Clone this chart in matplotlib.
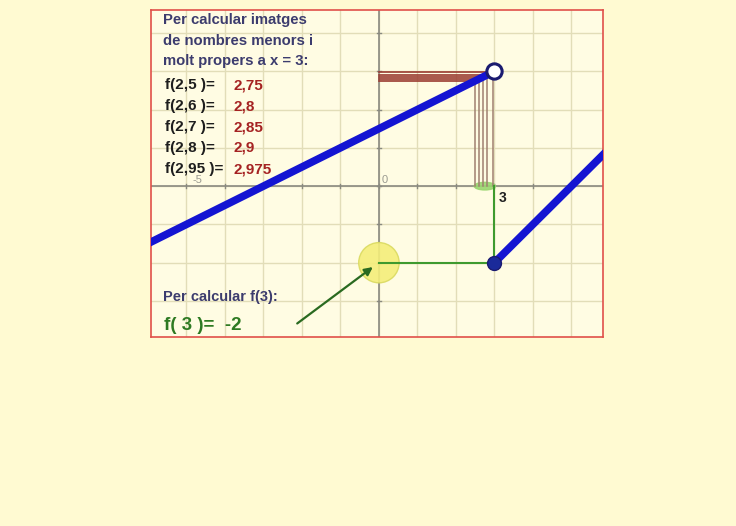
import matplotlib
matplotlib.use("Agg")
import matplotlib.pyplot as plt
from matplotlib.patches import Ellipse, FancyArrowPatch
import numpy as np

# Piecewise function: f(x) = x/2 + 1.5 for x < 3, f(x) = x - 5 for x >= 3
left_x = [-6.0, 3.0]
left_y = [-1.5, 3.0]
right_x = [3.0, 6.0]
right_y = [-2.0, 1.0]

# Sample points approaching x = 3 from the left and their images
sample_x = [2.5, 2.6, 2.7, 2.8, 2.95]
sample_y = [2.75, 2.8, 2.85, 2.9, 2.975]
sample_x_lbl = ["2,5", "2,6", "2,7", "2,8", "2,95"]
sample_y_lbl = ["2,75", "2,8", "2,85", "2,9", "2,975"]

# Value at the jump
jump_x = 3
jump_y = -2
open_y = 3

W, H = 736, 526
fig = plt.figure(figsize=(W / 100, H / 100), dpi=100)
fig.patch.set_facecolor("#FFFAD2")

ax = fig.add_axes([151 / W, 1 - 337 / H, (603 - 151) / W, (337 - 10) / H])
ax.set_facecolor("#FFFCE3")
ax.set_xlim(-5.92, 5.82)
ax.set_ylim(-3.94, 4.6)
for s in ax.spines.values():
    s.set_color("#E0504A")
    s.set_linewidth(1.2)
ax.set_xticks([])
ax.set_yticks([])

# Grid
grid_c = "#E2DDB8"
for gx in range(-5, 6):
    ax.axvline(gx, color=grid_c, lw=1.0, zorder=1)
for gy in range(-3, 5):
    ax.axhline(gy, color=grid_c, lw=1.0, zorder=1)

# Axes
ax.axhline(0, color="#8A8A80", lw=1.2, zorder=2)
ax.axvline(0, color="#8A8A80", lw=1.2, zorder=2)
for gx in range(-5, 6):
    ax.plot([gx, gx], [-0.05, 0.05], color="#8A8A80", lw=1, zorder=2)
for gy in range(-3, 5):
    ax.plot([-0.05, 0.05], [gy, gy], color="#8A8A80", lw=1, zorder=2)

ax.text(0.08, 0.04, "0", fontsize=8, color="#9A9A90", ha="left", va="bottom",
        family="Liberation Sans", zorder=3)
ax.text(-4.83, 0.04, "-5", fontsize=8, color="#9A9A90", ha="left", va="bottom",
        family="Liberation Sans", zorder=3)
ax.text(3.1, -0.12, "3", fontsize=10, color="#202020", ha="left", va="top",
        family="Liberation Sans", fontweight="bold", zorder=6)

# Green highlight on the x-axis near 3
ax.add_patch(Ellipse((2.75, 0.0), 0.55, 0.2, color="#9AD670", alpha=0.9, zorder=3))

# Projections of the sample points
for sx, sy in zip(sample_x, sample_y):
    ax.plot([sx, sx], [0, sy], color="#A08070", lw=1.1, zorder=4)
    ax.plot([0, sx], [sy, sy], color="#9A3A30", lw=1.2, zorder=4)

# Green guide lines to f(3)
ax.plot([jump_x, jump_x], [0, jump_y], color="#3E9A2E", lw=1.5, zorder=4)
ax.plot([0, jump_x], [jump_y, jump_y], color="#3E9A2E", lw=1.5, zorder=4)

# Yellow marker at y = -2 on the vertical axis
ax.add_patch(Ellipse((0, jump_y), 1.05, 1.05, facecolor="#F4EE7A",
                     edgecolor="#DADA60", lw=1, alpha=0.9, zorder=3))

# Function branches
ax.plot(left_x, left_y, color="#1414D2", lw=5.5, solid_capstyle="butt", zorder=5)
ax.plot(right_x, right_y, color="#1414D2", lw=5.5, solid_capstyle="round", zorder=5)
ax.plot([jump_x], [open_y], "o", ms=11, mfc="white", mec="#1A1A70", mew=2.2, zorder=7)
ax.plot([jump_x], [jump_y], "o", ms=10, mfc="#1A2A9A", mec="#1A1A70", mew=1, zorder=7)

# Arrow pointing at the yellow marker
ax.add_patch(FancyArrowPatch((-2.18, -3.63), (-0.1, -2.07), arrowstyle="-|>",
                             mutation_scale=12, color="#2A6A20", lw=1.6, zorder=6))

# Annotations (figure pixel positions)
def ftext(px, py, s, **kw):
    fig.text(px / W, 1 - py / H, s, family="Liberation Sans", fontweight="bold",
             va="center", ha="left", **kw)

navy = "#3C3C6E"
ftext(163, 20, "Per calcular imatges", fontsize=10.7, color=navy)
ftext(163, 41, "de nombres menors i", fontsize=10.7, color=navy)
ftext(163, 61, "molt propers a x = 3:", fontsize=10.7, color=navy)

for i, (lx, ly) in enumerate(zip(sample_x_lbl, sample_y_lbl)):
    py = 85 + 21 * i
    ftext(165, py, "f(%s )=" % lx, fontsize=11, color="#1E1E1E")
    ftext(233, py, ly, fontsize=11, color="#A52222")

ftext(163, 297, "Per calcular f(3):", fontsize=10.5, color=navy)
ftext(164, 325, "f( 3 )=  -2", fontsize=13.5, color="#2E7A22")

fig.savefig("out.png", dpi=100, facecolor=fig.get_facecolor())
